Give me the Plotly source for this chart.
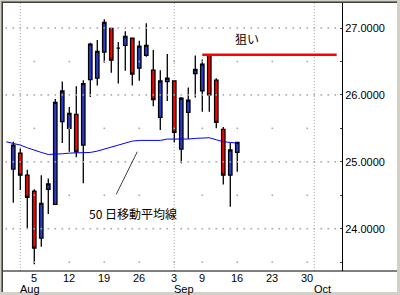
import plotly.graph_objects as go

# ---------------- data ----------------
# trading-day index 0 = Jul 30 (first MA point), candles from Jul 31 (idx 1) to Sep 16 (idx 33)
candle_idx = list(range(1, 34))
opens  = [24.89, 25.13, 24.80, 24.56, 23.86, 24.59, 24.365, 25.60, 25.50, 25.71, 25.25,
          26.23, 26.25, 26.64, 26.995, 26.70, 26.74, 26.85, 26.40, 26.59, 26.37, 25.665,
          26.20, 26.21, 25.19, 25.74, 26.32, 26.06, 26.60, 26.22, 25.485, 24.80, 25.14]
highs  = [25.30, 25.20, 24.88, 24.59, 24.80, 24.75, 25.94, 26.20, 25.82, 26.13, 26.22,
          26.78, 26.82, 27.13, 27.00, 26.79, 26.95, 26.86, 26.81, 27.07, 26.67, 26.37,
          26.61, 26.21, 25.97, 26.11, 26.59, 26.53, 26.60, 26.25, 25.52, 25.28, 25.30]
lows   = [24.39, 24.58, 24.01, 23.47, 23.73, 24.22, 24.36, 25.28, 25.15, 25.07, 24.68,
          25.97, 26.14, 26.48, 26.33, 26.17, 26.36, 26.14, 26.21, 26.57, 25.83, 25.475,
          25.91, 25.29, 24.98, 25.34, 25.96, 25.75, 25.75, 25.50, 24.66, 24.33, 24.85]
closes = [25.25, 24.80, 24.47, 23.71, 24.38, 24.67, 25.89, 26.06, 25.725, 25.15, 26.17,
          26.76, 26.65, 27.085, 26.52, 26.70, 26.875, 26.31, 26.73, 26.74, 25.93, 26.21,
          26.25, 25.44, 25.95, 25.92, 26.38, 26.46, 26.00, 25.59, 24.80, 25.18, 25.29]

ma_idx = list(range(0, 34))
ma50 = [25.30, 25.28, 25.25, 25.21, 25.17, 25.14, 25.11, 25.11, 25.12, 25.13, 25.13,
        25.13, 25.14, 25.16, 25.19, 25.23, 25.26, 25.29, 25.31, 25.32, 25.32, 25.32,
        25.32, 25.34, 25.34, 25.33, 25.34, 25.35, 25.36, 25.36, 25.33, 25.30, 25.29, 25.28]

# x axis labels (trading-day index -> label)
day_tick_idx = [4, 9, 14, 19, 24, 28, 33, 38, 43]
day_tick_txt = ["5", "12", "19", "26", "3", "9", "16", "23", "30"]
month_idx = [2, 24, 44]
month_txt = ["Aug", "Sep", "Oct"]
last_idx = 47

# y axis
price_grid = [23.5, 24.0, 24.5, 25.0, 25.5, 26.0, 26.5, 27.0]
price_lbl = ["", "24.0000", "", "25.0000", "", "26.0000", "", "27.0000"]

# target line
target_level = 26.60
target_start, target_end = 28, 47.2
target_text = "狙い"
ma_text = "50 日移動平均線"

# ---------------- figure ----------------
W, H = 400, 295
ML, MR, MT, MB = 3, 58, 3, 24
PW, PH = W - ML - MR, H - MT - MB
def px(x): return (x - ML) / PW
def py(y): return (H - MB - y) / PH

fig = go.Figure()

# grid dots: integer levels at each trading day, half levels at weekly ticks
gx, gy = [], []
for lv in price_grid:
    xs = range(0, last_idx + 1) if float(lv).is_integer() else day_tick_idx
    for k in xs:
        gx.append(k); gy.append(lv)
fig.add_trace(go.Scatter(x=gx, y=gy, mode="markers",
                         marker=dict(symbol="square", size=1.6, color="#a8a8a8", line=dict(width=0)),
                         hoverinfo="skip", showlegend=False))

fig.add_trace(go.Scatter(x=ma_idx, y=ma50, mode="lines",
                         line=dict(color="#0000ff", width=1), showlegend=False, hoverinfo="skip"))

fig.add_trace(go.Candlestick(
    x=candle_idx, open=opens, high=highs, low=lows, close=closes,
    increasing=dict(fillcolor="#2b3dd0", line=dict(color="#000000", width=1.3)),
    decreasing=dict(fillcolor="#ff0000", line=dict(color="#000000", width=1.3)),
    whiskerwidth=0, showlegend=False))

fig.add_trace(go.Scatter(x=[target_start, target_end], y=[target_level, target_level], mode="lines",
                         line=dict(color="#ff0000", width=2.5), showlegend=False, hoverinfo="skip"))

shapes = []
# month gridlines
for m in month_idx:
    shapes.append(dict(type="line", xref="x", yref="paper", x0=m, x1=m, y0=0, y1=1,
                       line=dict(color="#a8a8a8", width=1, dash="1px,2px"), layer="below"))
# pointer for MA label
shapes.append(dict(type="line", xref="x", yref="y", x0=15.71, y0=24.514, x1=18.71, y1=25.151,
                   line=dict(color="#404040", width=1)))
# bottom axis line extended under labels
shapes.append(dict(type="line", xref="paper", yref="paper", x0=px(0), x1=px(397), y0=0, y1=0,
                   line=dict(color="#000000", width=1)))
# frame
def rect(x0, y0, x1, y1, c):
    shapes.append(dict(type="rect", xref="paper", yref="paper", x0=px(x0), x1=px(x1),
                       y0=py(y1), y1=py(y0), fillcolor=c, line=dict(width=0), layer="above"))
rect(0, 0, 400, 1, "#d4d0c8")
rect(0, 0, 1, 295, "#d4d0c8")
rect(1, 1, 400, 2, "#808080")
rect(1, 1, 2, 295, "#808080")
rect(2, 2, 400, 3, "#404040")
rect(2, 2, 3, 295, "#404040")
rect(397, 0, 400, 295, "#d4d0c8")
rect(0, 292, 400, 295, "#d4d0c8")

ann = [
    dict(x=34.4, y=26.85, xref="x", yref="y", text=target_text, showarrow=False,
         font=dict(size=12, color="#000000", family="Noto Sans CJK JP")),
    dict(x=18.03, y=24.235, xref="x", yref="y", text=ma_text, showarrow=False,
         font=dict(size=12, color="#000000", family="Noto Sans CJK JP")),
]
for k, t in zip(day_tick_idx, day_tick_txt):
    ann.append(dict(x=k, y=py(277.5), xref="x", yref="paper", text=t, showarrow=False,
                    xanchor="center", yanchor="middle", borderpad=0,
                    font=dict(size=11, color="#000000", family="Liberation Sans")))
for m, t in zip(month_idx, month_txt):
    ann.append(dict(x=m, y=py(288.5), xref="x", yref="paper", text=t, showarrow=False,
                    xanchor="left", yanchor="middle", xshift=-1, borderpad=0,
                    font=dict(size=11, color="#000000", family="Liberation Sans")))

fig.update_layout(
    width=W, height=H, margin=dict(l=ML, r=MR, t=MT, b=MB),
    paper_bgcolor="#ffffff", plot_bgcolor="#ffffff",
    shapes=shapes, annotations=ann, showlegend=False,
    font=dict(family="Liberation Sans", size=11, color="#000000"),
    xaxis=dict(range=[-0.47, 47.96], showgrid=False, zeroline=False,
               showline=False, tickmode="array", tickvals=day_tick_idx,
               showticklabels=False, ticks="",
               rangeslider=dict(visible=False), fixedrange=True),
    yaxis=dict(range=[23.368, 27.374], side="right", showgrid=False, zeroline=False,
               showline=True, linecolor="#000000", linewidth=1,
               tickmode="array", tickvals=price_grid, ticktext=price_lbl,
               ticks="inside", ticklen=2, tickcolor="#404040",
               tickfont=dict(size=11, color="#000000"), fixedrange=True),
)

fig.write_html("out.html")
